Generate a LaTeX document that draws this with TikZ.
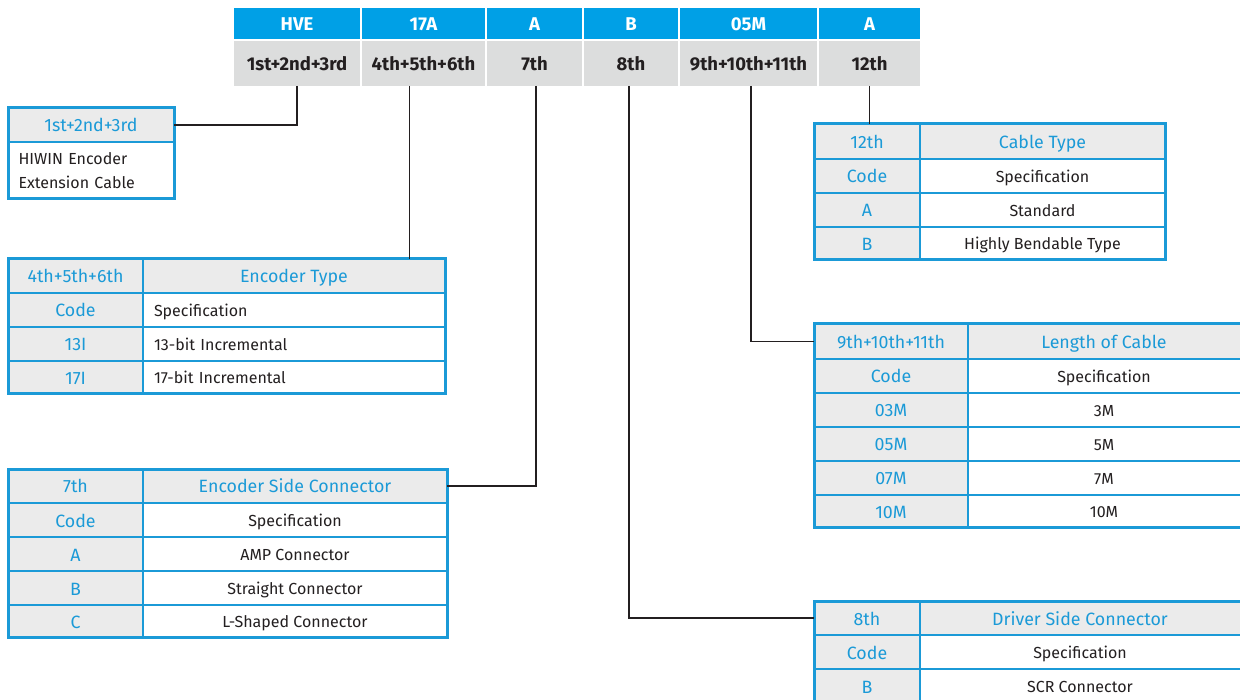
\documentclass[tikz,border=0pt]{standalone}
\usepackage{fontspec}
\setmainfont{Fira Sans}
\usetikzlibrary{calc}
\definecolor{hblue}{HTML}{00A0E6}
\definecolor{tblue}{HTML}{1B9AD7}
\definecolor{hgray}{HTML}{DCDDDD}
\definecolor{cgray}{HTML}{EBEBEB}
\definecolor{ink}{HTML}{231F20}
\newcommand\tabfont{\fontsize{16}{18.6}\selectfont}
\newcommand\bluefont{\fontsize{17.8}{20}\selectfont}
\newcommand\hdfont{\fontsize{18.5}{21}\selectfont\bfseries}
% [opts]{name}{x1}{y1}{x2}{y2}{text}
\newcommand\mkcell[7][]{\node[cellbase,#1,minimum width={#5-#3},minimum height={#6-#4}] (#2) at ({(#3+#5)/2},{(#4+#6)/2}) {#7};}
\newcommand\mkframe[5]{\node[tframe,minimum width={#4-#2},minimum height={#5-#3}] (#1) at ({(#2+#4)/2},{(#3+#5)/2}) {};}
\tikzset{
 cellbase/.style={inner sep=0pt,outer sep=0pt,anchor=center,font=\tabfont,text height=13pt,text depth=0pt},
 topc/.style={fill=hblue,text=white,font=\hdfont,text height=14.5pt},
 posc/.style={fill=hgray,text=ink,font=\hdfont,text height=14pt},
 headc/.style={fill=cgray,text=tblue,draw=tblue,line width=1.6pt,font=\bluefont,text height=14pt},
 specc/.style={fill=white,text=ink,draw=tblue,line width=1.6pt},
 tframe/.style={draw=tblue,line width=3pt,inner sep=0pt,outer sep=0pt},
 link/.style={draw=ink,line width=1.2pt}
}
\begin{document}
\begin{tikzpicture}[x=1pt,y=-1pt]
\useasboundingbox (0,0) rectangle (1240,700);
\clip (0,0) rectangle (1240,700);
% code header
\mkcell[topc]{c1}{234}{8}{360}{39}{HVE}
\mkcell[topc]{c2}{362}{8}{485}{39}{17A}
\mkcell[topc]{c3}{487}{8}{582}{39}{A}
\mkcell[topc]{c4}{584}{8}{678}{39}{B}
\mkcell[topc]{c5}{680}{8}{817}{39}{05M}
\mkcell[topc]{c6}{819}{8}{920}{39}{A}
\mkcell[posc]{g1}{234}{41}{360}{86}{1st+2nd+3rd}
\mkcell[posc]{g2}{362}{41}{485}{86}{4th+5th+6th}
\mkcell[posc]{g3}{487}{41}{582}{86}{7th}
\mkcell[posc]{g4}{584}{41}{678}{86}{8th}
\mkcell[posc]{g5}{680}{41}{817}{86}{9th+10th+11th}
\mkcell[posc]{g6}{819}{41}{920}{86}{12th}
% box 1
\mkcell[headc]{b1h}{8}{108}{174}{142}{1st+2nd+3rd}
\mkcell[specc,align=left,text width=145pt,text height={},text depth={},font={\fontsize{16}{24}\selectfont}]{b1b}{8}{142}{174}{199}{HIWIN Encoder\\Extension Cable}
\mkframe{b1}{8}{108}{174}{199}
% table 4-6
\mkcell[headc]{t4h1}{8}{259}{143}{293}{4th+5th+6th}
\mkcell[headc]{t4h2}{143}{259}{445}{293}{Encoder Type}
\mkcell[headc]{t4a1}{8}{293}{143}{327}{Code}
\mkcell[specc,align=left,text width=280pt]{t4a2}{143}{293}{445}{327}{Specification}
\mkcell[headc]{t4b1}{8}{327}{143}{361}{13I}
\mkcell[specc,align=left,text width=280pt]{t4b2}{143}{327}{445}{361}{13-bit Incremental}
\mkcell[headc]{t4c1}{8}{361}{143}{394}{17I}
\mkcell[specc,align=left,text width=280pt]{t4c2}{143}{361}{445}{394}{17-bit Incremental}
\mkframe{t4}{8}{259}{445}{394}
% table 7
\mkcell[headc]{t7h}{8}{469}{143}{503}{7th}
\mkcell[headc]{t7h2}{143}{469}{447}{503}{Encoder Side Connector}
\mkcell[headc]{t7a1}{8}{503}{143}{537}{Code}
\mkcell[specc]{t7a2}{143}{503}{447}{537}{Specification}
\mkcell[headc]{t7b1}{8}{537}{143}{571}{A}
\mkcell[specc]{t7b2}{143}{537}{447}{571}{AMP Connector}
\mkcell[headc]{t7c1}{8}{571}{143}{605}{B}
\mkcell[specc]{t7c2}{143}{571}{447}{605}{Straight Connector}
\mkcell[headc]{t7d1}{8}{605}{143}{637}{C}
\mkcell[specc]{t7d2}{143}{605}{447}{637}{L-Shaped Connector}
\mkframe{t7}{8}{469}{447}{637}
% table 12
\mkcell[headc]{t12h1}{814}{124}{920}{159}{12th}
\mkcell[headc]{t12h2}{920}{124}{1165}{159}{Cable Type}
\mkcell[headc]{t12a1}{814}{159}{920}{193}{Code}
\mkcell[specc]{t12a2}{920}{159}{1165}{193}{Specification}
\mkcell[headc]{t12b1}{814}{193}{920}{227}{A}
\mkcell[specc]{t12b2}{920}{193}{1165}{227}{Standard}
\mkcell[headc]{t12c1}{814}{227}{920}{260}{B}
\mkcell[specc]{t12c2}{920}{227}{1165}{260}{Highly Bendable Type}
\mkframe{t12}{814}{124}{1165}{260}
% table 9-11
\mkcell[headc]{t9h}{814}{324}{968}{359}{9th+10th+11th}
\mkcell[headc]{t9h2}{968}{324}{1250}{359}{\hspace*{-10pt}Length of Cable}
\mkcell[headc]{t9a1}{814}{359}{968}{393}{Code}
\mkcell[specc]{t9a2}{968}{359}{1250}{393}{\hspace*{-10pt}Specification}
\mkcell[headc]{t9b1}{814}{393}{968}{427}{03M}
\mkcell[specc]{t9b2}{968}{393}{1250}{427}{\hspace*{-10pt}3M}
\mkcell[headc]{t9c1}{814}{427}{968}{461}{05M}
\mkcell[specc]{t9c2}{968}{427}{1250}{461}{\hspace*{-10pt}5M}
\mkcell[headc]{t9d1}{814}{461}{968}{495}{07M}
\mkcell[specc]{t9d2}{968}{461}{1250}{495}{\hspace*{-10pt}7M}
\mkcell[headc]{t9e1}{814}{495}{968}{527}{10M}
\mkcell[specc]{t9e2}{968}{495}{1250}{527}{\hspace*{-10pt}10M}
\mkframe{t9}{814}{324}{1250}{527}
% table 8
\mkcell[headc]{t8h}{814}{601}{920}{635}{8th}
\mkcell[headc]{t8h2}{920}{601}{1250}{635}{\hspace*{-10pt}Driver Side Connector}
\mkcell[headc]{t8a1}{814}{635}{920}{669}{Code}
\mkcell[specc]{t8a2}{920}{635}{1250}{669}{\hspace*{-10pt}Specification}
\mkcell[headc]{t8b1}{814}{669}{920}{703}{B}
\mkcell[specc]{t8b2}{920}{669}{1250}{703}{\hspace*{-10pt}SCR Connector}
\mkframe{t8}{814}{601}{1250}{715}
% connectors
\draw[link] (g1.south) |- (b1h.east);
\draw[link] ([xshift=-14pt]g2.south) -- ([xshift=-14pt]g2.south |- t4.north);
\draw[link] ([xshift=1.5pt]g3.south) |- (t7h2.east);
\draw[link] ([xshift=-2pt]g4.south) |- (t8h.west);
\draw[link] ([xshift=2.5pt]g5.south) |- (t9h.west);
\draw[link] (g6.south) -- (g6.south |- t12.north);
\end{tikzpicture}
\end{document}
